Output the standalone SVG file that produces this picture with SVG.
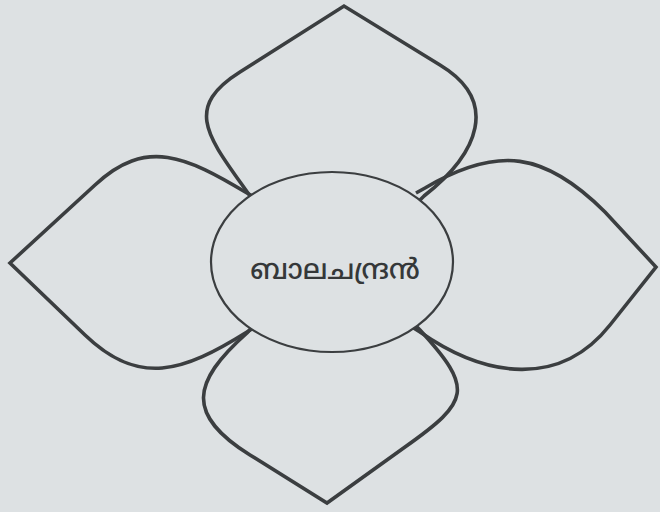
<svg xmlns="http://www.w3.org/2000/svg" width="660" height="512" viewBox="0 0 660 512">
  <style>
    .bg { fill: #dde1e3; }
    .petal { fill: none; stroke: #3b3e40; stroke-width: 3.6; stroke-linejoin: miter; stroke-miterlimit: 10; }
    .core { fill: #dde1e3; stroke: #3b3e40; stroke-width: 2.2; }
    .label { font-family: "Noto Sans Malayalam", "Noto Sans", "DejaVu Sans", sans-serif; font-size: 28px; font-weight: 500; fill: #353839; text-anchor: middle; }
  </style>
  <rect class="bg" x="0" y="0" width="660" height="512"/>
  <g id="petal-top">
    <path class="petal" d="M 256 204 L 250 196 C 210 139, 181 109, 240 72 L 344 6 L 440 65 C 499.5 101, 479 153, 424 196 L 417 203"/>
  </g>
  <g id="petal-left">
    <path class="petal" d="M 256 198 L 247 193 C 187 157, 146 137, 95 185 L 10 263 L 85 335 C 139 387, 183 372, 247 332 L 255 327"/>
  </g>
  <g id="petal-right">
    <path class="petal" d="M 416 193 L 425 188 C 498 145, 545 152, 605 212 L 656 267 L 610 325 C 560 388, 486 378, 420 332 L 412 327"/>
  </g>
  <g id="petal-bottom">
    <path class="petal" d="M 254 325 L 247 333 C 191 382.5, 186 415, 250 455 L 327 503 L 405 447 C 470 401, 474 389, 420 330 L 413 323"/>
  </g>
  <g id="center">
    <ellipse class="core" cx="332" cy="262" rx="121" ry="90"/>
    <text class="label" x="335" y="279">ബാലചന്ദ്രൻ</text>
  </g>
</svg>
